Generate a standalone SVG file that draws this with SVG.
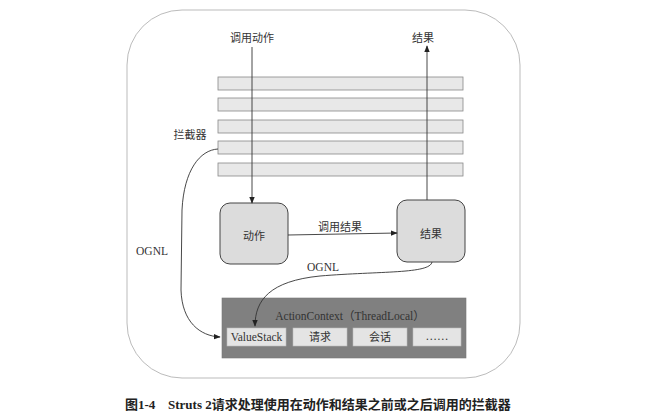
<svg xmlns="http://www.w3.org/2000/svg" width="653" height="419" viewBox="0 0 653 419">
<defs>
<marker id="arr" viewBox="0 0 10 10" refX="9" refY="5" markerWidth="7" markerHeight="7" orient="auto-start-reverse" markerUnits="userSpaceOnUse">
<path d="M0,1 L10,5 L0,9 z" fill="#222"/>
</marker>
<style>
.t{font-family:"Noto Sans CJK SC","Liberation Sans",sans-serif;font-size:11px;fill:#333;}
.s{font-family:"Liberation Serif","Noto Sans CJK SC",serif;font-size:11.5px;fill:#333;}
.bar{fill:#e8e8e8;stroke:#888;stroke-width:0.8;}
.box{fill:#dcdcdc;stroke:#444;stroke-width:1;}
.cell{fill:#e4e4e4;stroke:#bbb;stroke-width:0.6;}
.ln{fill:none;stroke:#333;stroke-width:0.9;}
</style>
</defs>
<rect width="653" height="419" fill="#ffffff"/>
<rect id="frame" x="127" y="10" width="393" height="368" rx="55" ry="55" fill="none" stroke="#aaa" stroke-width="0.8"/>
<g id="interceptors">
<rect class="bar" x="218" y="77" width="245" height="13"/>
<rect class="bar" x="218" y="98" width="245" height="13"/>
<rect class="bar" x="218" y="120" width="245" height="13"/>
<rect class="bar" x="218" y="141" width="245" height="13"/>
<rect class="bar" x="218" y="163" width="245" height="13"/>
<text class="t" x="190" y="139" text-anchor="middle">拦截器</text>
</g>
<g id="action">
<rect class="box" x="220" y="203" width="68" height="61" rx="10"/>
<text class="t" x="254" y="240" text-anchor="middle">动作</text>
</g>
<g id="result">
<rect class="box" x="397" y="200" width="68" height="62" rx="10"/>
<text class="t" x="431" y="238" text-anchor="middle">结果</text>
</g>
<g id="actioncontext">
<rect x="222" y="298" width="244" height="60" fill="#808080" stroke="#777" stroke-width="0.6"/>
<text class="s" x="350" y="320" text-anchor="middle" font-size="12" fill="#2a2a2a">ActionContext（ThreadLocal）</text>
<rect class="cell" x="227" y="328" width="59" height="18"/>
<text class="s" x="256.5" y="341" text-anchor="middle" font-size="12" fill="#111">ValueStack</text>
<rect class="cell" x="293" y="328" width="54" height="18"/>
<text class="t" x="320" y="341" text-anchor="middle">请求</text>
<rect class="cell" x="353" y="328" width="54" height="18"/>
<text class="t" x="380" y="341" text-anchor="middle">会话</text>
<rect class="cell" x="413" y="328" width="48" height="18"/>
<text class="s" x="437" y="340" text-anchor="middle">……</text>
</g>
<g id="connectors">
<text class="t" x="252" y="42" text-anchor="middle">调用动作</text>
<line class="ln" x1="252" y1="47" x2="252" y2="203" marker-end="url(#arr)"/>
<text class="t" x="423" y="42" text-anchor="middle">结果</text>
<line class="ln" x1="427" y1="200" x2="427" y2="46" marker-end="url(#arr)"/>
<text class="t" x="340" y="231" text-anchor="middle">调用结果</text>
<line class="ln" x1="288" y1="235" x2="397" y2="233" marker-end="url(#arr)"/>
<text class="s" x="152" y="255" text-anchor="middle">OGNL</text>
<path class="ln" d="M218,149 C200,150 184,170 182,210 L181,290 C182,322 200,336 220,337" marker-end="url(#arr)"/>
<text class="s" x="323" y="271" text-anchor="middle">OGNL</text>
<path class="ln" d="M432,262 C430,274 380,271 320,276 C270,281 255,300 255,326" marker-end="url(#arr)"/>
</g>
<text id="caption" x="125" y="409" font-family="Liberation Serif,'Noto Sans CJK SC',serif" font-size="13" font-weight="bold" fill="#222">图1-4<tspan x="168">Struts 2请求处理使用在动作和结果之前或之后调用的拦截器</tspan></text>
</svg>
